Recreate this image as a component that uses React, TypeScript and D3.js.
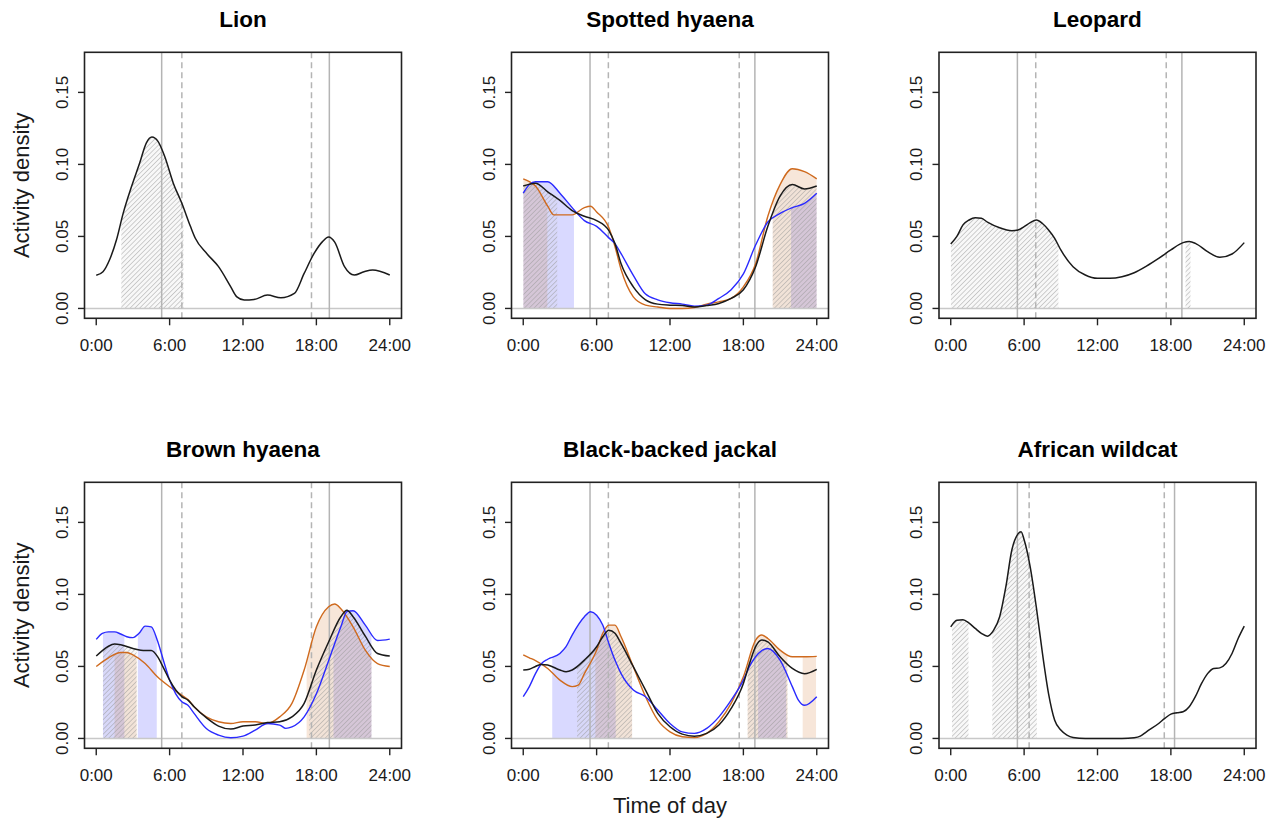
import React from "react";
import * as d3 from "d3";

type Pt = [number, number];

// ---------- data (hour of day, activity density) ----------
const lionBlack: Pt[] = [[0,0.023],[0.55,0.0255],[1.1,0.034],[1.65,0.0475],[2.2,0.066],[2.9,0.085],[3.55,0.101],[4.1,0.115],[4.55,0.119],[5.05,0.116],[5.6,0.1055],[6.3,0.087],[7.0,0.073],[7.7,0.057],[8.1,0.0487],[9.05,0.038],[10.0,0.029],[11.0,0.015],[11.5,0.008],[12.1,0.0058],[12.9,0.0062],[14.0,0.0093],[15.1,0.0074],[16.2,0.0104],[17.0,0.0243],[17.8,0.038],[18.5,0.0464],[19.0,0.0496],[19.5,0.046],[20.3,0.029],[21.1,0.0232],[21.9,0.0255],[22.6,0.0267],[24,0.0232]];

const spottedBlack: Pt[] = [[0,0.085],[1,0.087],[2,0.081],[3,0.075],[4,0.068],[5,0.064],[6,0.061],[7,0.054],[7.5,0.045],[8,0.031],[9,0.015],[10,0.006],[11,0.003],[12,0.0023],[13,0.002],[14,0.001],[15,0.002],[16,0.0035],[17,0.007],[18,0.013],[19,0.029],[20,0.057],[21,0.078],[22,0.086],[23,0.083],[24,0.085]];
const spottedBlue: Pt[] = [[0,0.08],[0.5,0.086],[1,0.088],[2,0.088],[3,0.08],[4,0.07],[5,0.061],[6,0.057],[7,0.049],[7.5,0.045],[8,0.038],[9,0.023],[10,0.01],[11,0.006],[12,0.004],[13,0.003],[14,0.0016],[15,0.0023],[16,0.007],[17,0.013],[18,0.024],[19,0.044],[20,0.06],[21,0.066],[22,0.07],[23,0.073],[24,0.08]];
const spottedOrange: Pt[] = [[0,0.09],[0.5,0.088],[1,0.085],[2,0.071],[2.5,0.065],[3,0.065],[4,0.065],[5,0.07],[5.5,0.071],[6,0.067],[7,0.056],[7.5,0.043],[8,0.027],[9,0.008],[10,0.0023],[11,0.001],[12,0.0],[13,0.0],[14,0.0007],[15,0.003],[16,0.0046],[17,0.007],[18,0.015],[19,0.031],[20,0.064],[21,0.086],[22,0.097],[23,0.095],[24,0.09]];

const leopardBlack: Pt[] = [[0,0.0447],[0.5,0.05],[1,0.058],[1.5,0.0614],[2,0.063],[2.5,0.0626],[3,0.06],[4,0.056],[5,0.054],[5.5,0.0545],[6,0.0568],[6.5,0.0596],[7,0.0614],[7.5,0.059],[8,0.0545],[8.5,0.0487],[9,0.0406],[10,0.029],[11,0.0232],[12,0.0209],[13,0.0209],[14,0.022],[15,0.0248],[16,0.0294],[17,0.0348],[18,0.0406],[19,0.0457],[19.5,0.0464],[20,0.0452],[21,0.0394],[22,0.0355],[23,0.0378],[24,0.0457]];

const brownBlack: Pt[] = [[0,0.0572],[0.5,0.061],[1,0.064],[1.5,0.0655],[2,0.065],[3,0.0625],[4,0.061],[4.5,0.061],[5,0.057],[5.5,0.049],[6,0.0405],[6.5,0.0336],[7,0.029],[7.5,0.0266],[8,0.022],[9,0.0144],[10,0.0086],[11,0.0065],[12,0.0086],[13,0.0093],[14,0.011],[15,0.0116],[16,0.015],[17,0.0243],[18,0.0475],[19,0.067],[20,0.0845],[20.5,0.089],[21,0.0845],[22,0.071],[23,0.059],[24,0.0572]];
const brownBlue: Pt[] = [[0,0.0688],[0.5,0.073],[1,0.074],[1.5,0.074],[2,0.0725],[2.5,0.0706],[3,0.07],[3.5,0.073],[4,0.078],[4.5,0.0775],[5,0.068],[5.5,0.054],[6,0.0405],[6.5,0.031],[7,0.0255],[7.5,0.023],[8,0.0174],[9,0.0069],[10,0.0023],[11,0.0005],[12,0.0016],[13,0.0058],[14,0.0104],[15,0.0093],[15.5,0.007],[16,0.008],[17,0.015],[18,0.031],[19,0.054],[20,0.0775],[20.5,0.088],[21,0.0887],[22,0.0787],[23,0.068],[24,0.069]];
const brownOrange: Pt[] = [[0,0.05],[1,0.056],[2,0.0597],[2.5,0.0597],[3,0.058],[4,0.052],[5,0.0428],[6,0.0359],[7,0.03],[7.5,0.027],[8,0.022],[9,0.015],[10,0.0116],[11,0.0104],[12,0.0116],[13,0.0116],[14,0.0104],[15,0.015],[16,0.0243],[17,0.0475],[18,0.0775],[19,0.0914],[19.5,0.0933],[20,0.09],[21,0.0775],[22,0.0613],[23,0.052],[24,0.05]];

const jackalBlack: Pt[] = [[0,0.0475],[0.5,0.048],[1,0.05],[1.5,0.0514],[2,0.051],[3,0.0475],[3.5,0.0463],[4,0.0475],[5,0.0544],[6,0.0637],[6.5,0.0706],[7,0.0752],[7.5,0.073],[8,0.066],[9,0.0498],[10,0.0336],[11,0.0174],[12,0.0081],[13,0.003],[14,0.0016],[15,0.0035],[16,0.0093],[17,0.0208],[18,0.0382],[18.5,0.052],[19,0.0637],[19.5,0.0683],[20,0.067],[21,0.0567],[22,0.0486],[23,0.045],[24,0.048]];
const jackalBlue: Pt[] = [[0,0.029],[0.5,0.036],[1,0.045],[1.5,0.052],[2,0.055],[3,0.059],[3.5,0.0637],[4,0.0718],[5,0.0845],[5.5,0.088],[6,0.0856],[6.5,0.0787],[7,0.066],[7.5,0.0544],[8,0.045],[9,0.0336],[10,0.029],[11,0.0197],[12,0.0104],[13,0.0046],[14,0.0035],[15,0.007],[16,0.015],[17,0.0266],[18,0.0405],[18.5,0.05],[19,0.0567],[19.5,0.061],[20,0.0625],[21,0.0544],[22,0.036],[22.5,0.0266],[23,0.023],[24,0.029]];
const jackalOrange: Pt[] = [[0,0.058],[0.5,0.056],[1,0.054],[2,0.0486],[3,0.0405],[4,0.036],[4.5,0.037],[5,0.045],[6,0.0613],[6.5,0.073],[7,0.0787],[7.5,0.0787],[8,0.0706],[9,0.0498],[10,0.029],[11,0.0127],[12,0.0046],[13,0.0012],[14,0.0007],[15,0.0035],[16,0.0116],[17,0.0243],[18,0.0428],[19,0.0683],[19.5,0.0718],[20,0.0694],[21,0.0613],[22,0.0567],[23,0.0567],[24,0.057]];

const wildcatBlack: Pt[] = [[0,0.0775],[0.5,0.082],[1,0.0824],[1.5,0.08],[2,0.0764],[2.5,0.073],[3,0.071],[3.5,0.075],[4,0.0845],[4.5,0.105],[5,0.131],[5.5,0.142],[5.75,0.1435],[6,0.138],[6.5,0.119],[7,0.091],[7.5,0.059],[8,0.031],[8.5,0.0127],[9,0.0058],[9.5,0.0023],[10,0.0007],[11,0],[12,0],[13,0],[14,0],[15,0.0005],[15.5,0.0016],[16,0.0046],[17,0.0104],[17.5,0.0139],[18,0.0169],[18.5,0.0178],[19,0.0185],[19.5,0.022],[20,0.029],[20.5,0.038],[21,0.045],[21.5,0.0486],[22,0.049],[22.5,0.052],[23,0.059],[23.5,0.0694],[24,0.078]];

// shaded periods (hours)
const lionHatch: Pt[] = [[2.05, 7.13]];
const spottedHatch: Pt[] = [[0, 2.78], [20.4, 24]];
const spottedBlueFill: Pt[] = [[0, 4.15], [21.9, 24]];
const spottedOrangeFill: Pt[] = [[0, 1.97], [20.4, 24]];
const leopardHatch: Pt[] = [[0, 8.8], [19.2, 19.6]];
const brownHatch: Pt[] = [[0.55, 3.3], [17.4, 22.5]];
const brownBlueFill: Pt[] = [[0.55, 2.3], [3.4, 4.95], [19.4, 22.5]];
const brownOrangeFill: Pt[] = [[1.5, 3.3], [17.2, 22.5]];
const jackalHatch: Pt[] = [[4.4, 8.9], [18.35, 21.6]];
const jackalBlueFill: Pt[] = [[2.37, 7.56], [19.2, 21.5]];
const jackalOrangeFill: Pt[] = [[5.9, 8.9], [18.35, 21.6], [22.85, 23.94]];
const wildcatHatch: Pt[] = [[0.1, 1.45], [3.4, 7.04]];

// sunrise/sunset (solid) and civil twilight (dashed)
const solidLines: number[][] = [[5.35, 19.06], [5.46, 18.94], [5.45, 18.9], [5.35, 19.06], [5.46, 18.94], [5.45, 18.3]];
const dashedLines: number[][] = [[7.0, 17.6], [6.96, 17.66], [6.95, 17.62], [7.0, 17.6], [6.96, 17.66], [6.41, 17.46]];

const titles = ["Lion", "Spotted hyaena", "Leopard", "Brown hyaena", "Black-backed jackal", "African wildcat"];
const xTicks = [0, 6, 12, 18, 24];
const xTickLabels = ["0:00", "6:00", "12:00", "18:00", "24:00"];
const yTicks = [0, 0.05, 0.1, 0.15];
const yTickLabels = ["0.00", "0.05", "0.10", "0.15"];

interface Panel {
  black: Pt[];
  blue?: Pt[];
  orange?: Pt[];
  hatch: Pt[];
  blueFill?: Pt[];
  orangeFill?: Pt[];
}

const panels: Panel[] = [
  { black: lionBlack, hatch: lionHatch },
  { black: spottedBlack, blue: spottedBlue, orange: spottedOrange, hatch: spottedHatch, blueFill: spottedBlueFill, orangeFill: spottedOrangeFill },
  { black: leopardBlack, hatch: leopardHatch },
  { black: brownBlack, blue: brownBlue, orange: brownOrange, hatch: brownHatch, blueFill: brownBlueFill, orangeFill: brownOrangeFill },
  { black: jackalBlack, blue: jackalBlue, orange: jackalOrange, hatch: jackalHatch, blueFill: jackalBlueFill, orangeFill: jackalOrangeFill },
  { black: wildcatBlack, hatch: wildcatHatch },
];

// ---------- layout ----------
const W = 1275, H = 825;
const colLeft = [84.5, 511.5, 939];
const rowTop = [52.3, 482.3];
const boxW = 317, boxH = 266;
const FONT = "'Liberation Sans', Arial, Helvetica, sans-serif";
const BLUE = "#2a2aff";
const ORANGE = "#cf6a1e";

function PanelView({ p, idx }: { p: Panel; idx: number }) {
  const left = colLeft[idx % 3];
  const top = rowTop[Math.floor(idx / 3)];
  const x = d3.scaleLinear().domain([-0.96, 24.96]).range([left, left + boxW]);
  const y = d3.scaleLinear().domain([-0.00684, 0.17784]).range([top + boxH, top]);
  const line = d3.line<Pt>().x(d => x(d[0])).y(d => y(d[1])).curve(d3.curveMonotoneX);
  const area = d3.area<Pt>().x(d => x(d[0])).y0(y(0)).y1(d => y(d[1])).curve(d3.curveMonotoneX);

  const fills: { data: Pt[]; ranges: Pt[]; fill: string; key: string }[] = [];
  if (p.blue && p.blueFill) fills.push({ data: p.blue, ranges: p.blueFill, fill: "rgba(0,0,255,0.15)", key: "b" });
  if (p.orange && p.orangeFill) fills.push({ data: p.orange, ranges: p.orangeFill, fill: "rgba(210,105,30,0.17)", key: "o" });
  fills.push({ data: p.black, ranges: p.hatch, fill: "url(#hatch)", key: "h" });

  const cx = left + boxW / 2;
  const yLabelX = left - 17;
  const xLabelY = top + boxH + 33;

  return (
    <g>
      <defs>
        {fills.map(f => f.ranges.map((r, i) => (
          <clipPath id={`c${idx}${f.key}${i}`} key={`c${f.key}${i}`}>
            <rect x={x(r[0])} y={top} width={x(r[1]) - x(r[0])} height={boxH} />
          </clipPath>
        )))}
      </defs>
      {fills.map(f => f.ranges.map((r, i) => (
        <path key={`f${f.key}${i}`} d={area(f.data) || ""} fill={f.fill} stroke="none" clipPath={`url(#c${idx}${f.key}${i})`} />
      )))}
      {/* reference lines */}
      <line x1={left} x2={left + boxW} y1={y(0)} y2={y(0)} stroke="#c8c8c8" strokeWidth={1.6} />
      {solidLines[idx].map((h, i) => (
        <line key={`s${i}`} x1={x(h)} x2={x(h)} y1={top} y2={top + boxH} stroke="#b4b4b4" strokeWidth={1.5} />
      ))}
      {dashedLines[idx].map((h, i) => (
        <line key={`d${i}`} x1={x(h)} x2={x(h)} y1={top} y2={top + boxH} stroke="#b4b4b4" strokeWidth={1.5} strokeDasharray="6,4" />
      ))}
      {/* curves */}
      {p.orange && <path d={line(p.orange) || ""} fill="none" stroke={ORANGE} strokeWidth={1.4} />}
      {p.blue && <path d={line(p.blue) || ""} fill="none" stroke={BLUE} strokeWidth={1.4} />}
      <path d={line(p.black) || ""} fill="none" stroke="#1a1a1a" strokeWidth={1.5} />
      {/* box */}
      <rect x={left} y={top} width={boxW} height={boxH} fill="none" stroke="#222" strokeWidth={1.6} />
      {/* x axis */}
      {xTicks.map((t, i) => (
        <g key={`xt${i}`}>
          <line x1={x(t)} x2={x(t)} y1={top + boxH} y2={top + boxH + 7} stroke="#222" strokeWidth={1.4} />
          <text x={x(t)} y={xLabelY} textAnchor="middle" fontSize={17} fontFamily={FONT} fill="#1a1a1a">{xTickLabels[i]}</text>
        </g>
      ))}
      {/* y axis */}
      {yTicks.map((t, i) => (
        <g key={`yt${i}`}>
          <line x1={left - 6.5} x2={left} y1={y(t)} y2={y(t)} stroke="#222" strokeWidth={1.4} />
          <text transform={`translate(${yLabelX},${y(t)}) rotate(-90)`} textAnchor="middle" fontSize={17} fontFamily={FONT} fill="#1a1a1a">{yTickLabels[i]}</text>
        </g>
      ))}
      <text x={cx} y={top - 25.5} textAnchor="middle" fontSize={22.5} fontWeight="bold" fontFamily={FONT} fill="#000">{titles[idx]}</text>
      {idx % 3 === 0 && (
        <text transform={`translate(29,${top + boxH / 2}) rotate(-90)`} textAnchor="middle" fontSize={22} fontFamily={FONT} fill="#1a1a1a">Activity density</text>
      )}
      {idx === 4 && (
        <text x={cx} y={813} textAnchor="middle" fontSize={22} fontFamily={FONT} fill="#1a1a1a">Time of day</text>
      )}
    </g>
  );
}

export default function App() {
  return (
    <div style={{ position: "absolute", left: 0, top: 0, width: W, height: H, background: "#fff" }}>
      <svg width={W} height={H} viewBox={`0 0 ${W} ${H}`} style={{ display: "block" }}>
        <defs>
          <pattern id="hatch" patternUnits="userSpaceOnUse" width={3.4} height={3.4} patternTransform="rotate(45)">
            <rect width={3.4} height={3.4} fill="rgba(200,200,200,0.12)" />
            <line x1={0} y1={0} x2={0} y2={3.4} stroke="#9a9a9a" strokeWidth={0.9} />
          </pattern>
        </defs>
        <rect width={W} height={H} fill="#fff" />
        {panels.map((p, i) => <PanelView key={i} p={p} idx={i} />)}
      </svg>
    </div>
  );
}
